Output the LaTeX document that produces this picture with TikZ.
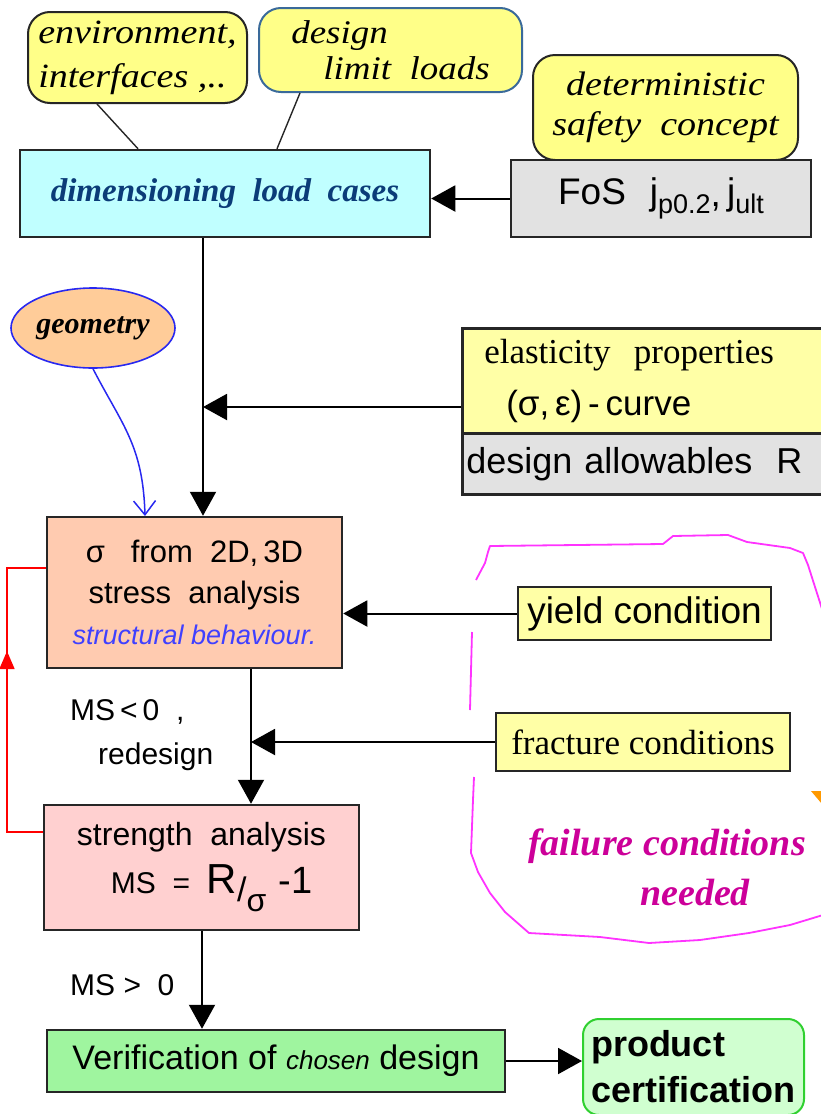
\documentclass[tikz,border=0pt]{standalone}
\usepackage{fontspec}
\setmainfont{Liberation Serif}
\setsansfont{Liberation Sans}
\newfontfamily\noteserif[FakeStretch=1.12]{Liberation Serif}
\usetikzlibrary{arrows.meta,decorations.markings,shapes.geometric}
\newcommand{\fsz}[2]{\fontsize{#1}{#2}\selectfont}
\definecolor{noteyellow}{HTML}{FFFF88}
\definecolor{paleyellow}{HTML}{FFFFA6}
\definecolor{cyanfill}{HTML}{C0FFFF}
\definecolor{grayfill}{HTML}{E2E2E2}
\definecolor{peach}{HTML}{FFCBB0}
\definecolor{pinkfill}{HTML}{FFD0D0}
\definecolor{greenfill}{HTML}{9FF59F}
\definecolor{prodfill}{HTML}{D0FFD0}
\definecolor{prodborder}{HTML}{30D030}
\definecolor{geofill}{HTML}{FFCC99}
\definecolor{geoborder}{HTML}{2828F0}
\definecolor{dimtext}{HTML}{0B3C78}
\definecolor{behav}{HTML}{4040FF}
\definecolor{loopmag}{HTML}{FF33FF}
\definecolor{failmag}{HTML}{CC0099}
\definecolor{designborder}{HTML}{3A6A9A}
\definecolor{orangemark}{HTML}{FF9900}
\begin{document}
\begin{tikzpicture}[x=1pt,y=-1pt,
  box/.style={draw=black!85, line width=2.5pt, inner sep=0pt, rectangle},
  note/.style={box, rounded corners=22pt, fill=noteyellow, line width=2pt},
  arr/.style={line width=2pt, -{Triangle[length=24pt,width=26pt]}},
  thinline/.style={line width=1.4pt, black!85},
  lbl/.style={inner sep=0pt, font=\sffamily\fsz{30}{36}}
]
\useasboundingbox (0,0) rectangle (821,1114);
\clip (0,0) rectangle (821,1114);

% helper coordinates
\coordinate (xa) at (97,0);
\coordinate (xb) at (138,0);
\coordinate (xc) at (300,0);
\coordinate (xd) at (277,0);
\coordinate (mx) at (203,0);
\coordinate (mx2) at (251,0);
\coordinate (mx3) at (202,0);
\coordinate (j1) at (203,407);
\coordinate (r1) at (7,832);
\coordinate (r2) at (7,568);
\coordinate (bt) at (145,516);

% notes at the top
\node[note, minimum width=219pt, minimum height=91pt, align=left,
      font={\noteserif\itshape\fsz{34}{44}}] (env) at (137.5,57.5)
      {environment,\\ interfaces ,..};
\node[note, draw=designborder, minimum width=263pt, minimum height=84pt, align=left,
      font={\noteserif\itshape\fsz{33}{36}}] (design) at (390.5,50)
      {design\\ \hspace*{32pt}limit\ \ loads};
\node[note, minimum width=265pt, minimum height=105pt, align=center,
      font={\noteserif\itshape\fsz{34}{40}}] (det) at (665.5,107.5)
      {deterministic\\ safety\ \ concept};

% dimensioning load cases
\node[box, fill=cyanfill, minimum width=410pt, minimum height=87pt,
      font={\bfseries\itshape\fsz{33}{38}}, text=dimtext] (dim) at (225,193.5)
      {dimensioning\ \ load\ \ cases};
\node[box, fill=grayfill, minimum width=300pt, minimum height=77pt,
      font={\sffamily\fsz{37}{40}}] (fos) at (661,198.5)
      {FoS\hspace{24pt}j\raisebox{-9pt}{\fsz{27}{30}p0.2}\raisebox{-2pt}{,}\,j\raisebox{-9pt}{\fsz{27}{30}ult}};

\draw[thinline] (env.south -| xa) -- (dim.north -| xb);
\draw[thinline] (design.south -| xc) -- (dim.north -| xd);
\draw[arr] (fos.west) -- (fos.west -| dim.east);

% geometry
\node[ellipse, draw=geoborder, line width=1.6pt, fill=geofill, minimum width=164pt,
      minimum height=80pt, inner sep=0pt, font={\bfseries\itshape\fsz{30}{34}}] (geo) at (93,328)
      {geometry};

% elasticity / allowables
\node[box, fill=paleyellow, anchor=north west, minimum height=105pt, inner xsep=22pt,
      text width=336pt, align=left, font={\fsz{35}{52}}] (elast) at (461,327)
      {elasticity\ \ properties\\ \hspace*{22pt}\textsf{(σ,\,ε)\,-\,curve}};
\node[box, fill=grayfill, anchor=north west, minimum height=61pt, inner xsep=4pt,
      text width=372pt, align=left, font={\sffamily\fsz{36}{40}}] (allow) at (461,432)
      {design allowables\ \ R};

% sigma box
\node[box, fill=peach, minimum width=295pt, minimum height=151pt, align=center,
      font={\sffamily\fsz{31}{41}}] (sig) at (194.5,592.5)
      {σ\ \ \ from\ \ 2D,\,3D\\ stress\ \ analysis\\ {\itshape\fsz{27}{41}\textcolor{behav}{structural behaviour.}}};

\node[box, fill=paleyellow, minimum width=253pt, minimum height=53pt,
      font={\sffamily\fsz{37}{40}}] (yield) at (644.5,613.5) {yield condition};
\node[box, fill=paleyellow, minimum width=294pt, minimum height=58pt,
      font={\fsz{35}{40}}] (frac) at (643,742) {fracture conditions};

% strength box
\node[box, fill=pinkfill, minimum width=315pt, minimum height=125pt, align=left,
      font={\sffamily\fsz{32}{48}}] (strength) at (201.5,867.5)
      {strength\ \ analysis\\ \hspace*{34pt}{\fsz{30}{48}MS\ \ =\ \ }{\fsz{42}{48}R}\raisebox{-8pt}{\fsz{34}{48}/}\raisebox{-18pt}{\fsz{32}{48}σ}\hspace{12pt}{\fsz{38}{48}-1}};

% verification and product
\node[box, fill=greenfill, minimum width=458pt, minimum height=62pt,
      font={\sffamily\fsz{34}{40}}] (verif) at (276,1061)
      {Verification of {\itshape\fsz{26}{40}chosen} design};
\node[rectangle, rounded corners=16pt, draw=prodborder, line width=2pt, fill=prodfill,
      anchor=north west, minimum height=96pt, inner xsep=8pt, inner ysep=0pt, text width=205pt,
      align=left, font={\sffamily\bfseries\fsz{36}{46}}] (prod) at (582,1018)
      {product\\ certification};

% main flow connectors
\draw[arr] (dim.south -| mx) -- (sig.north -| mx);
\draw[arr] (elast.west |- j1) -- (j1);
\draw[arr] (yield.west) -- (yield.west -| sig.east);
\draw[arr] (sig.south -| mx2) -- (strength.north -| mx2);
\draw[arr] (frac.west) -- (frac.west -| mx2);
\draw[arr] (strength.south -| mx3) -- (verif.north -| mx3);
\draw[arr] (verif.east) -- (verif.east -| prod.west);

% geometry curve
\draw[geoborder, line width=1.5pt, -{Straight Barb[length=14pt,width=22pt,line width=1.5pt]}]
  (geo.south) .. controls (122,425) and (143,445) .. (bt);

% red redesign loop
\draw[red, line width=1.8pt, postaction={decorate},
  decoration={markings, mark=at position 0.64 with {\arrow{Triangle[length=18pt,width=15pt]}}}]
  (strength.west |- r1) -- (r1) -- (r2) -- (sig.west |- r2);

% labels
\node[lbl, anchor=west] (ms1) at (70,712) {MS\,<\,0\ \ ,};
\node[lbl, anchor=west] (ms2) at (98,757) {redesign};
\node[lbl, anchor=west] (ms3) at (70,985) {MS\ >\ \ 0};

% magenta freehand loop
\draw[loopmag, line width=1.8pt, line join=round]
  (476,580) -- (485,563) -- (488,552) -- (490,546) -- (663,544) -- (673,536) -- (728,535)
  -- (747,542) -- (790,548) -- (803,553) -- (808,565) -- (823,612);
\draw[loopmag, line width=1.8pt] (472,632) -- (470,710);
\draw[loopmag, line width=1.8pt, line join=round]
  (474,777) -- (473,800) -- (471,853) -- (478,872) -- (490,893) -- (505,912) -- (529,933)
  -- (600,937) -- (649,943) -- (700,940) -- (749,933) -- (790,925) -- (823,915);

\node[anchor=west, inner sep=0pt, text=failmag, font={\bfseries\itshape\fsz{38}{44}}] (fail) at (528,846)
  {failure conditions};
\node[inner sep=0pt, text=failmag, font={\bfseries\itshape\fsz{38}{44}}] (need) at (695,892)
  {needed};

\fill[orangemark] (811,791) -- (822,791) -- (822,804) -- cycle;
\end{tikzpicture}
\end{document}
